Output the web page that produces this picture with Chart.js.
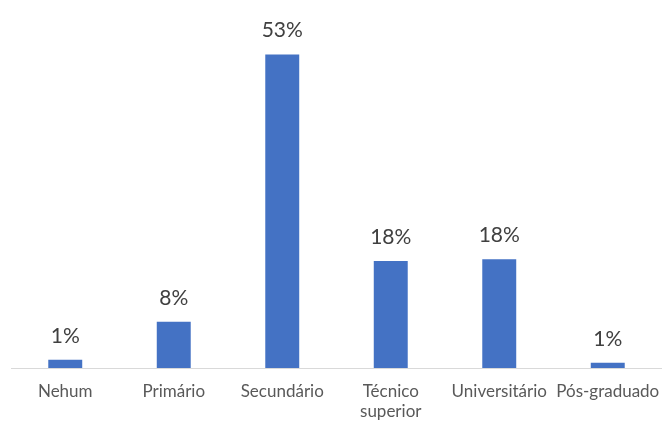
<!DOCTYPE html>
<html>
<head>
<meta charset="utf-8">
<script src="https://cdn.jsdelivr.net/npm/chart.js@4/dist/chart.umd.min.js"></script>
<style>
  html, body { margin: 0; padding: 0; background: #ffffff; }
  #wrap { width: 662px; height: 421px; }
</style>
</head>
<body>
<div id="wrap"><canvas id="c" width="662" height="421"></canvas></div>
<script>
// Education level distribution (share of respondents, %)
const categories = ['Nehum', 'Primário', 'Secundário', ['Técnico', 'superior'], 'Universitário', 'Pós-graduado'];
const shares = [1.4, 7.8, 53, 18.1, 18.4, 0.9];
const valueLabels = shares.map(v => Math.round(v) + '%');

const FONT = 'Lato, "Open Sans", sans-serif';

// Writes the percentage above each bar
const barValueLabels = {
  id: 'barValueLabels',
  afterDatasetsDraw(chart) {
    const ctx = chart.ctx;
    const meta = chart.getDatasetMeta(0);
    ctx.save();
    ctx.font = '21px ' + FONT;
    ctx.fillStyle = '#404040';
    ctx.textAlign = 'center';
    ctx.textBaseline = 'alphabetic';
    meta.data.forEach((bar, i) => {
      ctx.fillText(valueLabels[i], bar.x, bar.y - 17);
    });
    ctx.restore();
  }
};

new Chart(document.getElementById('c'), {
  type: 'bar',
  data: {
    labels: categories,
    datasets: [{
      data: shares,
      backgroundColor: '#4472c4',
      borderWidth: 0,
      categoryPercentage: 1,
      barPercentage: 0.313
    }]
  },
  options: {
    responsive: false,
    animation: false,
    layout: { padding: { left: 11, right: 0, top: 13, bottom: 0 } },
    plugins: { legend: { display: false }, tooltip: { enabled: false } },
    scales: {
      y: { display: false, min: 0, max: 60 },
      x: {
        grid: { display: false, drawTicks: false },
        border: { display: true, color: '#d9d9d9', width: 1 },
        ticks: {
          color: '#595959',
          font: { family: FONT, size: 17, lineHeight: 1.15 },
          padding: 14,
          maxRotation: 0,
          autoSkip: false
        },
        // keep the category band running edge to edge and the axis band fixed
        afterFit(scale) {
          scale.paddingLeft = 0;
          scale.paddingRight = 0;
          scale.height = 53;
        }
      }
    }
  },
  plugins: [barValueLabels]
});
</script>
</body>
</html>
